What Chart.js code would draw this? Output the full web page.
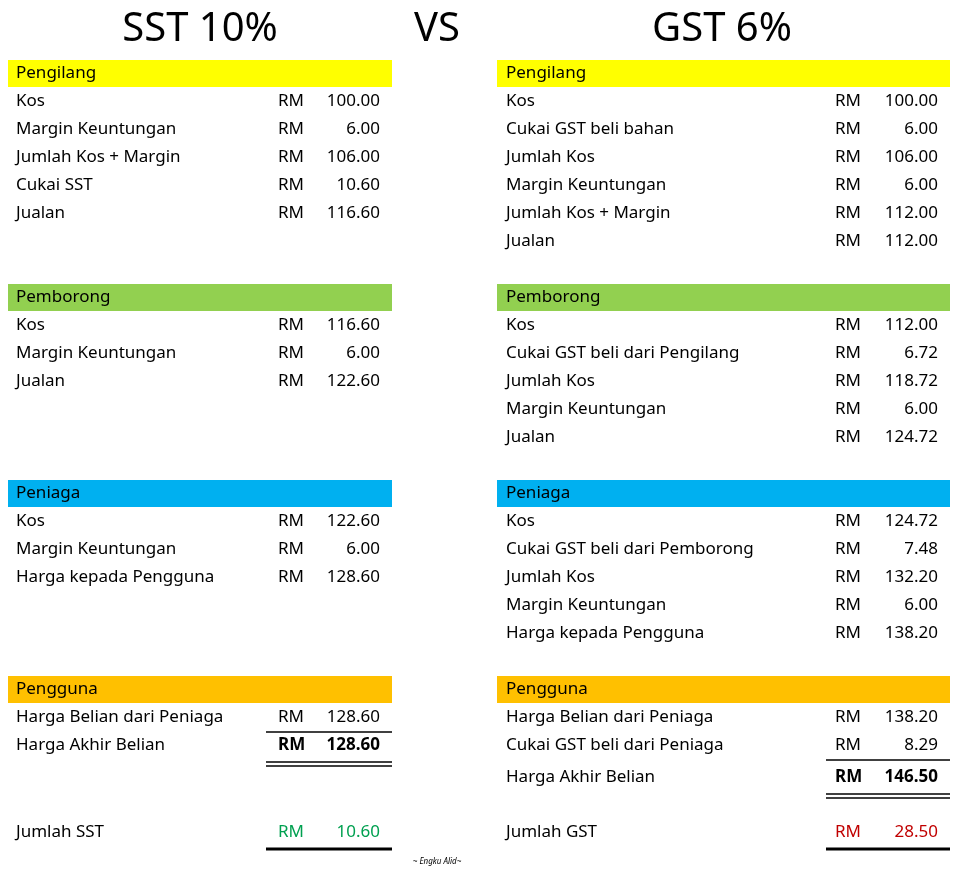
<!DOCTYPE html>
<html><head><meta charset="utf-8">
<script src="https://cdn.jsdelivr.net/npm/chart.js@4"></script>
<style>html,body{margin:0;padding:0;background:#fff}</style>
</head><body>
<canvas id="c" width="960" height="874"></canvas>
<script>
// ---- data ----
const titles = ["SST 10%", "VS", "GST 6%"];
const sections = ["Pengilang", "Pemborong", "Peniaga", "Pengguna"];
const sectionColors = ["#ffff00", "#92d050", "#00b0f0", "#ffc000"];
const sstLabels = [
  ["Kos", "Margin Keuntungan", "Jumlah Kos + Margin", "Cukai SST", "Jualan"],
  ["Kos", "Margin Keuntungan", "Jualan"],
  ["Kos", "Margin Keuntungan", "Harga kepada Pengguna"],
  ["Harga Belian dari Peniaga", "Harga Akhir Belian"]
];
const sstValues = [
  [100.00, 6.00, 106.00, 10.60, 116.60],
  [116.60, 6.00, 122.60],
  [122.60, 6.00, 128.60],
  [128.60, 128.60]
];
const gstLabels = [
  ["Kos", "Cukai GST beli bahan", "Jumlah Kos", "Margin Keuntungan", "Jumlah Kos + Margin", "Jualan"],
  ["Kos", "Cukai GST beli dari Pengilang", "Jumlah Kos", "Margin Keuntungan", "Jualan"],
  ["Kos", "Cukai GST beli dari Pemborong", "Jumlah Kos", "Margin Keuntungan", "Harga kepada Pengguna"],
  ["Harga Belian dari Peniaga", "Cukai GST beli dari Peniaga", "Harga Akhir Belian"]
];
const gstValues = [
  [100.00, 6.00, 106.00, 6.00, 112.00, 112.00],
  [112.00, 6.72, 118.72, 6.00, 124.72],
  [124.72, 7.48, 132.20, 6.00, 138.20],
  [138.20, 8.29, 146.50]
];
const totalLabels = ["Jumlah SST", "Jumlah GST"];
const totalValues = [10.60, 28.50];
const credit = "~ Engku Alid~";

// ---- layout (row units) ----
const sectionRows = [0, 8, 15, 22];
const rowH = 28;
const FONT = '"Noto Sans", "Open Sans", sans-serif';

const tablePlugin = {
  id: 'tbl',
  afterDraw(chart) {
    const ctx = chart.ctx, X = chart.scales.x, Y = chart.scales.y;
    const px = v => X.getPixelForValue(v), py = v => Y.getPixelForValue(v);
    const rowY = r => py(73 + r * rowH);
    ctx.save();
    ctx.textBaseline = 'middle';
    // titles
    ctx.fillStyle = '#000';
    ctx.font = '40px ' + FONT;
    ctx.textAlign = 'center';
    [200, 437, 722].forEach((x, i) => ctx.fillText(titles[i], px(x), py(30)));

    const cols = [
      {x0: 8, x1: 392, lab: 16, rm: 278, val: 380, labels: sstLabels, values: sstValues, lineX: 266},
      {x0: 497, x1: 950, lab: 506, rm: 835, val: 938, labels: gstLabels, values: gstValues, lineX: 826}
    ];
    cols.forEach((c, ci) => {
      sections.forEach((s, si) => {
        const r0 = sectionRows[si];
        const y = rowY(r0);
        ctx.fillStyle = sectionColors[si];
        ctx.fillRect(px(c.x0), y - 13, px(c.x1) - px(c.x0), 27);
        ctx.fillStyle = '#000';
        ctx.font = '17px ' + FONT;
        ctx.textAlign = 'left';
        ctx.fillText(s, px(c.lab), y);
        c.labels[si].forEach((lab, k) => {
          let rr = r0 + 1 + k;
          const isLast = si === 3 && k === c.labels[si].length - 1;
          if (isLast && ci === 1) rr += 0.07;
          const yy = rowY(rr) + (isLast && ci === 1 ? 2 : 0);
          ctx.font = (isLast ? 'bold ' : '') + '17px ' + FONT;
          ctx.textAlign = 'left';
          ctx.font = '17px ' + FONT;
          ctx.fillText(lab, px(c.lab), yy);
          ctx.font = (isLast ? 'bold ' : '') + '17px ' + FONT;
          ctx.fillText('RM', px(c.rm), yy);
          ctx.textAlign = 'right';
          ctx.fillText(c.values[si][k].toFixed(2), px(c.val), yy);
          if (si === 3) {
            ctx.strokeStyle = '#000';
            if (!isLast && k === c.labels[si].length - 2) {
              ctx.lineWidth = 1.5;
              ctx.beginPath(); ctx.moveTo(px(c.lineX), yy + 15); ctx.lineTo(px(c.x1), yy + 15); ctx.stroke();
            }
            if (isLast) {
              ctx.lineWidth = 1.5;
              [17, 21].forEach(d => { ctx.beginPath(); ctx.moveTo(px(c.lineX), yy + d); ctx.lineTo(px(c.x1), yy + d); ctx.stroke(); });
            }
          }
        });
      });
      // totals
      const ty = py(832);
      ctx.font = '17px ' + FONT;
      ctx.textAlign = 'left';
      ctx.fillStyle = '#000';
      ctx.fillText(totalLabels[ci], px(c.lab), ty);
      ctx.fillStyle = ci === 0 ? '#00a050' : '#c00000';
      ctx.fillText('RM', px(c.rm), ty);
      ctx.textAlign = 'right';
      ctx.fillText(totalValues[ci].toFixed(2), px(c.val), ty);
      ctx.strokeStyle = '#000'; ctx.lineWidth = 3;
      ctx.beginPath(); ctx.moveTo(px(c.lineX), py(849)); ctx.lineTo(px(c.x1), py(849)); ctx.stroke();
    });
    ctx.fillStyle = '#000';
    ctx.textAlign = 'center';
    ctx.font = 'italic 8px ' + FONT;
    ctx.fillText(credit, px(437), py(862));
    ctx.restore();
  }
};

new Chart(document.getElementById('c'), {
  type: 'scatter',
  data: { datasets: [{ data: [] }] },
  options: {
    responsive: false, animation: false, devicePixelRatio: 1,
    layout: { padding: 0 },
    plugins: { legend: { display: false }, tooltip: { enabled: false } },
    scales: {
      x: { type: 'linear', min: 0, max: 960, display: false },
      y: { type: 'linear', min: 0, max: 874, reverse: true, display: false }
    }
  },
  plugins: [tablePlugin]
});
</script>
</body></html>
